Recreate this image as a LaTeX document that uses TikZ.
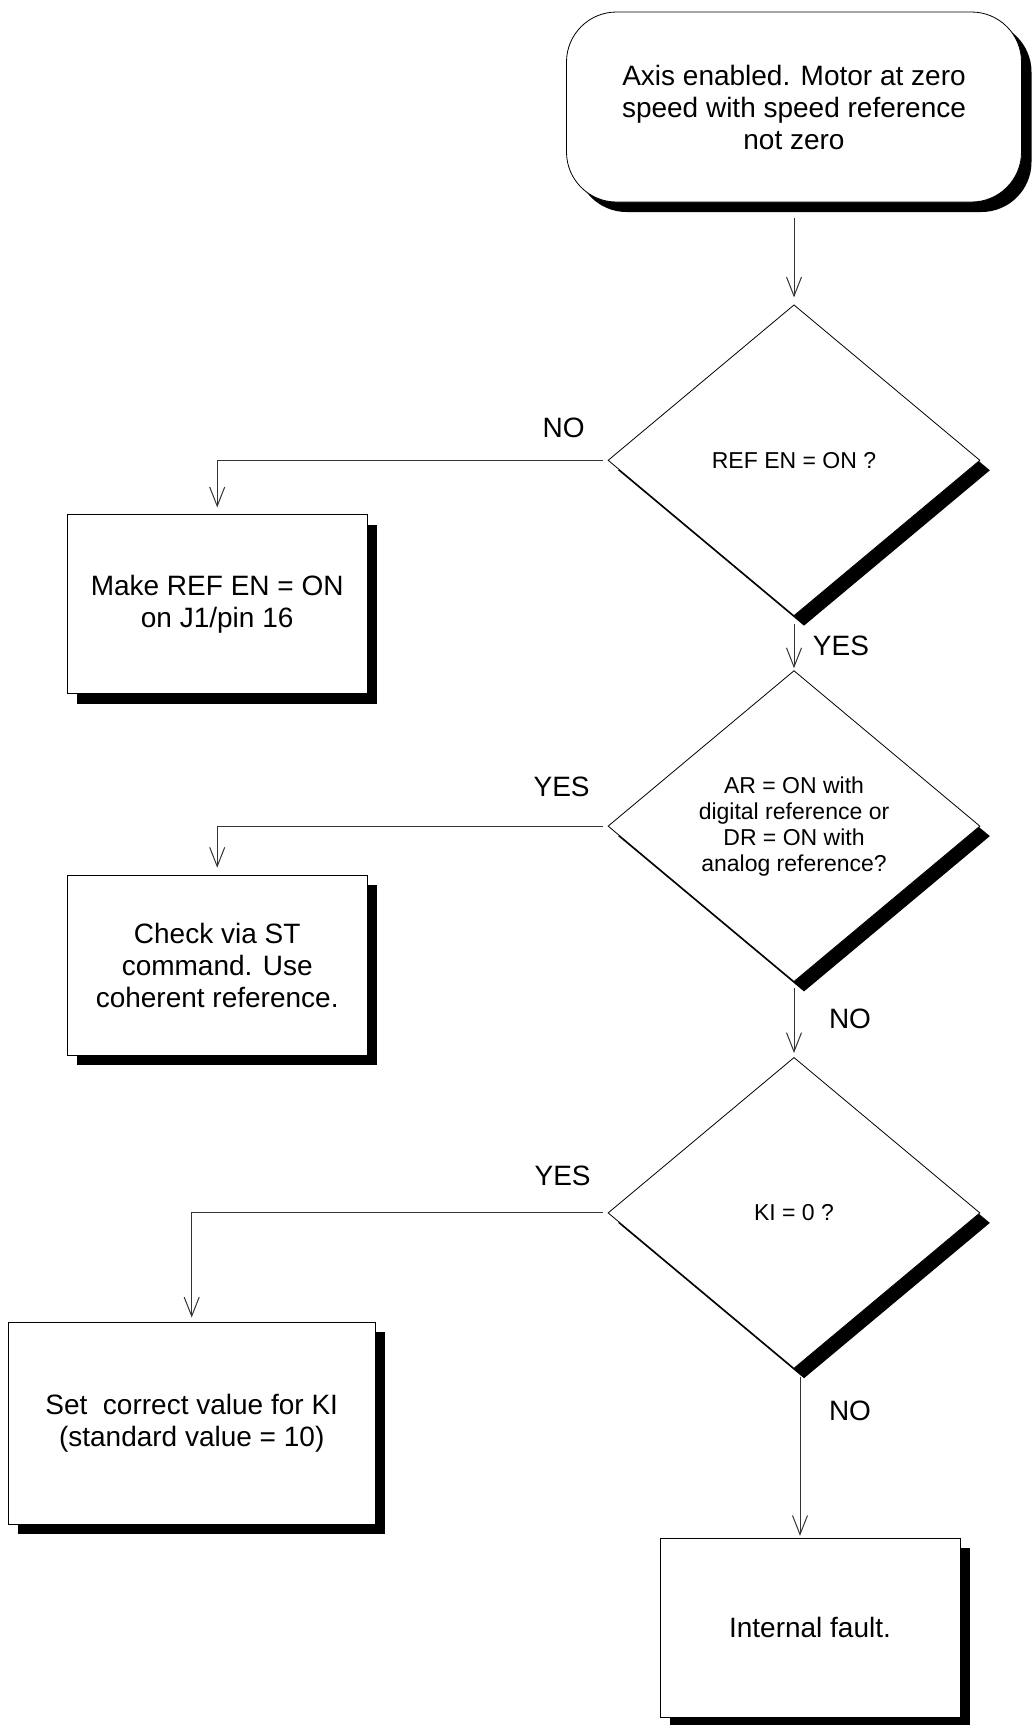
\documentclass[tikz,border=0pt]{standalone}
\usepackage{fontspec}
\setmainfont{Liberation Sans}
\usetikzlibrary{positioning, shapes.geometric, arrows.meta, shadows}

\begin{document}
\begin{tikzpicture}[
  hardshadow/.style={drop shadow={shadow xshift=5pt, shadow yshift=-5pt,
                fill=black, opacity=1}},
  startbox/.style={rectangle, draw=black, fill=white, rounded corners=25pt,
                minimum width=227.5pt, minimum height=95pt,
                align=center, font=\fontsize{14pt}{16pt}\selectfont, hardshadow},
  decision/.style={diamond, aspect=1.2, draw=black, fill=white, inner sep=0pt,
                minimum width=186pt, minimum height=155.5pt,
                align=center, font=\fontsize{11.5pt}{13pt}\selectfont, hardshadow},
  fixbox/.style={rectangle, draw=black, fill=white,
                minimum width=150pt, minimum height=89.5pt,
                align=center, font=\fontsize{14pt}{16pt}\selectfont, hardshadow},
  lbl/.style={inner sep=0pt, font=\fontsize{14pt}{16pt}\selectfont},
  arrow/.style={-{Straight Barb[length=9.5pt, width=7.5pt]},
                draw=black!80, line width=0.5pt}
]
\useasboundingbox (0,0) rectangle (516.5pt,-862.5pt);

% Start condition
\node[startbox] (start) at (397pt,-53.5pt)
  {Axis enabled. Motor at zero\\speed with speed reference\\not zero};

% Main column — decisions
\node[decision, below=51pt of start] (dec1) {REF EN = ON ?};
\node[decision, below=27pt of dec1]  (dec2)
  {AR = ON with\\digital reference or\\DR = ON with\\analog reference?};
\node[decision, below=37.5pt of dec2] (dec3) {KI = 0 ?};
\node[fixbox, below=84.5pt of dec3, xshift=8pt] (fault) {Internal fault.};

% Left column — remedies
\node[fixbox, left=120pt of dec1, yshift=-72pt]   (fix1) {Make REF EN = ON\\on J1/pin 16};
\node[fixbox, left=120pt of dec2, yshift=-69.5pt, minimum height=90pt] (fix2)
  {Check via ST\\command. Use\\coherent reference.};
\node[fixbox, left=116pt of dec3, yshift=-105pt,
      minimum width=183.5pt, minimum height=101pt] (fix3)
  {Set\ \ correct value for KI\\(standard value = 10)};

% Branch labels
\node[lbl] (no1)  at ([shift={(-22pt,16pt)}]dec1.west)    {NO};
\node[lbl] (yes1) at ([shift={(23.5pt,-15pt)}]dec1.south) {YES};
\node[lbl] (yes2) at ([shift={(-23pt,19.5pt)}]dec2.west)  {YES};
\node[lbl] (no2)  at ([shift={(28pt,-18.5pt)}]dec2.south) {NO};
\node[lbl] (yes3) at ([shift={(-22.5pt,18.5pt)}]dec3.west) {YES};
\node[lbl] (no3)  at ([shift={(28pt,-21pt)}]dec3.south)   {NO};

% Arrows: main column
\draw[arrow, shorten <=8pt, shorten >=3.5pt] (start) -- (dec1);
\draw[arrow, shorten <=4pt, shorten >=1pt]   (dec1) -- (dec2);
\draw[arrow, shorten <=3pt, shorten >=2pt]   (dec2) -- (dec3);
\draw[arrow, shorten <=4pt, shorten >=1pt]   ([xshift=3pt]dec3.south) -- ([xshift=3pt]dec3.south |- fault.north);

% Arrows: branches to the left
\draw[arrow, shorten <=2.5pt, shorten >=3.5pt] (dec1.west) -| (fix1.north);
\draw[arrow, shorten <=2.5pt, shorten >=3.5pt] (dec2.west) -| (fix2.north);
\draw[arrow, shorten <=2.5pt, shorten >=2pt]   (dec3.west) -| (fix3.north);

\end{tikzpicture}
\end{document}
